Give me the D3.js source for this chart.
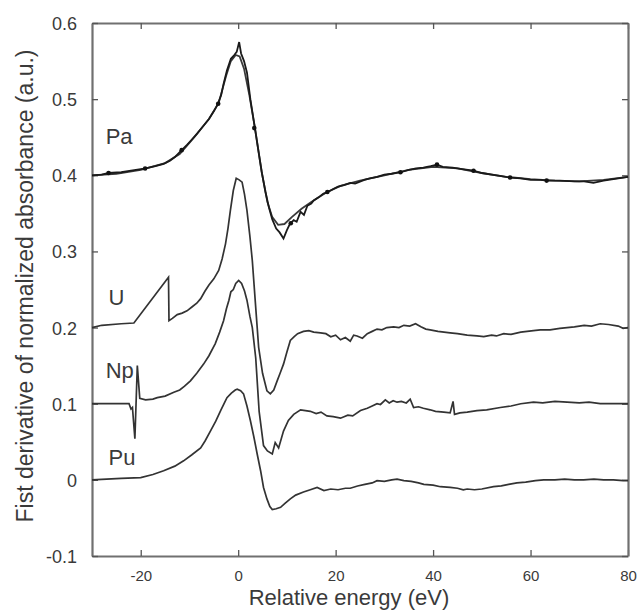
<!DOCTYPE html>
<html><head><meta charset="utf-8">
<script src="https://cdn.jsdelivr.net/npm/d3@7"></script>
<style>body{margin:0;background:#fff}svg{display:block}</style>
</head><body>
<script>
// Tick labels
const xTicks = [-20, 0, 20, 40, 60, 80];
const yTicks = [-0.1, 0, 0.1, 0.2, 0.3, 0.4, 0.5, 0.6];
const xTickLabels = ["-20", "0", "20", "40", "60", "80"];
const yTickLabels = ["-0.1", "0", "0.1", "0.2", "0.3", "0.4", "0.5", "0.6"];
const seriesNames = ["Pa", "U", "Np", "Pu"];

// Pa experimental (noisy) [E, value]
const paData = [[-30,0.400],[-28,0.401],[-26.6,0.403],[-24,0.404],[-22,0.406],[-20,0.408],[-19,0.409],[-17,0.412],[-15.3,0.415],[-14,0.419],[-13,0.424],[-11.6,0.433],[-10.5,0.440],[-9.5,0.447],[-8.4,0.455],[-7,0.466],[-6,0.474],[-5,0.484],[-4.3,0.492],[-3.5,0.505],[-3,0.52],[-2.3,0.538],[-1.5,0.553],[-0.8,0.558],[-0.3,0.562],[0.2,0.575],[0.6,0.56],[1.2,0.55],[1.8,0.535],[2.5,0.50],[3.5,0.459],[4.2,0.43],[4.9,0.402],[5.6,0.378],[6.3,0.358],[7,0.342],[7.8,0.33],[8.5,0.325],[9.3,0.317],[10,0.328],[10.6,0.336],[11.4,0.341],[12,0.339],[12.8,0.352],[13.5,0.348],[14.2,0.36],[15,0.363],[15.5,0.367],[16.5,0.371],[17.5,0.376],[18.4,0.378],[19.5,0.382],[20.5,0.385],[21.7,0.387],[23,0.39],[24,0.389],[25.9,0.394],[27,0.396],[28.5,0.398],[30,0.401],[31.5,0.402],[33.4,0.404],[35,0.407],[36.5,0.409],[38,0.410],[39.5,0.412],[40.8,0.414],[42,0.411],[44,0.410],[46,0.408],[48.3,0.406],[50,0.403],[52,0.401],[54,0.399],[55.8,0.397],[58,0.396],[60,0.394],[62,0.394],[63.4,0.393],[66,0.393],[69,0.392],[71,0.392],[72.9,0.390],[75,0.393],[77,0.395],[79,0.397],[80,0.398]];
// Pa fit (smooth)
const paFit = [[-30,0.400],[-25,0.402],[-20,0.407],[-15,0.416],[-12,0.428],[-9,0.450],[-6,0.474],[-4,0.495],[-2.5,0.53],[-1.5,0.55],[-0.5,0.558],[0.3,0.556],[1.2,0.54],[2.3,0.505],[3.5,0.46],[4.8,0.405],[6,0.365],[7,0.345],[8.2,0.335],[9.5,0.336],[11,0.345],[13,0.356],[15,0.365],[18,0.377],[21,0.386],[25,0.393],[30,0.400],[35,0.407],[40,0.411],[45,0.409],[50,0.403],[55,0.398],[60,0.395],[65,0.393],[70,0.392],[75,0.394],[80,0.398]];
// Pa markers
const paMarkers = [[-26.6,0.403],[-19.1,0.409],[-11.6,0.433],[-4.1,0.494],[3.3,0.462],[10.8,0.337],[18.3,0.378],[33.3,0.404],[40.8,0.414],[48.3,0.406],[55.8,0.397],[63.3,0.393]];

const uData = [[-30,0.20],[-28,0.203],[-24,0.205],[-21.4,0.206],[-14.3,0.266],[-14.2,0.209],[-13.5,0.212],[-12.5,0.217],[-11.5,0.219],[-10.5,0.222],[-9.5,0.227],[-8.5,0.232],[-7.7,0.238],[-6.8,0.248],[-6,0.256],[-5,0.264],[-4,0.275],[-3.3,0.29],[-2.6,0.31],[-2.1,0.33],[-1.6,0.354],[-1,0.38],[-0.4,0.396],[0.2,0.394],[0.8,0.391],[1.3,0.375],[1.8,0.354],[2.4,0.32],[2.9,0.288],[3.5,0.235],[4.2,0.174],[5,0.14],[5.9,0.117],[6.6,0.113],[7.3,0.118],[8,0.13],[8.6,0.14],[9.3,0.152],[10,0.168],[10.7,0.183],[11.5,0.188],[12.2,0.192],[13.4,0.195],[14.5,0.196],[15.5,0.194],[16.9,0.193],[18,0.192],[19,0.188],[20,0.19],[21,0.184],[22,0.187],[23,0.182],[23.7,0.19],[24.4,0.189],[25.5,0.186],[26.5,0.192],[27.5,0.195],[28.5,0.198],[29.5,0.197],[30.5,0.200],[31.9,0.201],[33,0.200],[34,0.203],[35.2,0.202],[36.4,0.205],[37.5,0.201],[38.5,0.198],[39.4,0.197],[41,0.195],[43.5,0.193],[45,0.192],[47,0.19],[49,0.189],[50.4,0.188],[52,0.190],[53,0.189],[54.5,0.192],[56,0.191],[58,0.194],[60.6,0.196],[62,0.197],[64,0.197],[66,0.199],[67.5,0.2],[69,0.201],[71,0.203],[72.5,0.202],[74.3,0.205],[76,0.204],[78,0.202],[79,0.199],[80,0.2]];

const npData = [[-30,0.1],[-24,0.1],[-22.4,0.1],[-22,0.093],[-21.7,0.095],[-21.2,0.054],[-20.7,0.15],[-20.2,0.107],[-19,0.105],[-17.5,0.106],[-16.6,0.108],[-15,0.11],[-13.2,0.115],[-12,0.118],[-11,0.123],[-9.8,0.13],[-8.5,0.14],[-7.1,0.152],[-6,0.163],[-4.7,0.179],[-3.8,0.194],[-3,0.209],[-2.4,0.225],[-1.9,0.236],[-1.5,0.247],[-1.0,0.250],[-0.5,0.258],[0.1,0.262],[0.7,0.258],[1.3,0.248],[1.8,0.236],[2.4,0.215],[2.9,0.2],[3.6,0.16],[4.3,0.09],[5.2,0.045],[6,0.038],[7,0.034],[7.6,0.049],[8.3,0.042],[9.3,0.064],[10.3,0.078],[11.4,0.086],[12.8,0.092],[13.8,0.091],[14.8,0.09],[16,0.087],[17,0.089],[18.2,0.084],[19.5,0.083],[21,0.081],[22.5,0.085],[23.5,0.084],[25.1,0.091],[26.5,0.094],[27.5,0.097],[28.5,0.1],[29.2,0.099],[30.2,0.105],[31,0.101],[31.8,0.104],[32.6,0.102],[33.5,0.103],[34.5,0.101],[35.3,0.106],[36,0.095],[37,0.096],[38,0.094],[39.4,0.092],[40.5,0.09],[42.2,0.089],[43.5,0.088],[44.1,0.103],[44.4,0.086],[45.5,0.088],[47,0.089],[49,0.091],[51,0.092],[53.8,0.095],[56,0.097],[58,0.1],[60.6,0.102],[62.5,0.101],[65,0.103],[67.5,0.102],[70,0.101],[72,0.102],[74.3,0.1],[77,0.1],[80,0.1]];

const puData = [[-30,0.0],[-27,0.001],[-24,0.002],[-20,0.003],[-17.5,0.007],[-15.3,0.012],[-13,0.018],[-11.2,0.025],[-9.5,0.033],[-7.7,0.042],[-6.8,0.051],[-5.7,0.064],[-4.6,0.077],[-3.6,0.091],[-2.9,0.1],[-2.3,0.108],[-1.4,0.114],[-0.6,0.118],[-0.2,0.119],[0.5,0.117],[1.1,0.113],[1.8,0.097],[2.5,0.078],[3.2,0.057],[3.9,0.034],[4.6,0.012],[5.2,-0.01],[5.9,-0.025],[6.5,-0.035],[7,-0.039],[7.8,-0.038],[8.7,-0.036],[9.6,-0.031],[10.7,-0.025],[11.8,-0.02],[13.4,-0.016],[14.8,-0.013],[16.2,-0.01],[17.6,-0.014],[19,-0.012],[20.5,-0.013],[22,-0.011],[23,-0.011],[24.5,-0.008],[26,-0.006],[27.5,-0.004],[28.5,-0.001],[30,-0.002],[31.5,0.0],[32.6,0.001],[34,-0.001],[35.5,-0.002],[37,-0.004],[38.1,-0.006],[40,-0.007],[41.5,-0.009],[43.5,-0.01],[45,-0.011],[46.2,-0.013],[47,-0.012],[48.5,-0.013],[50,-0.012],[52.4,-0.009],[54,-0.008],[55.5,-0.006],[57.2,-0.004],[59,-0.003],[61,-0.001],[62.7,0.0],[65,0.0],[67,0.001],[69,0.0],[70.9,0.0],[73,0.001],[75,0.0],[77,0.0],[79,-0.001],[80,-0.001]];

// label anchor positions in data coords (left edge, baseline)
const labelPos = [[-27.2, 0.441], [-26.6, 0.230], [-27.2, 0.134], [-26.6, 0.020]];

const W = 639, H = 611;
const m = {left: 92, right: 11, top: 23, bottom: 55};
const svg = d3.select("body").append("svg").attr("width", W).attr("height", H)
  .style("font-family", "'Liberation Sans', Arial, Helvetica, sans-serif");

const x = d3.scaleLinear().domain([-30, 80]).range([m.left, W - m.right]);
const y = d3.scaleLinear().domain([-0.1, 0.6]).range([H - m.bottom, m.top]);

const axisColor = "#707070";
const gB = svg.append("g").attr("transform", `translate(0,${y(-0.1)})`)
  .call(d3.axisBottom(x).tickValues(xTicks).tickSizeInner(-6).tickSizeOuter(0).tickPadding(14)
    .tickFormat((d, i) => xTickLabels[i]));
const gT = svg.append("g").attr("transform", `translate(0,${y(0.6)})`)
  .call(d3.axisTop(x).tickValues(xTicks).tickSizeInner(-6).tickSizeOuter(0).tickFormat(""));
const gL = svg.append("g").attr("transform", `translate(${x(-30)},0)`)
  .call(d3.axisLeft(y).tickValues(yTicks).tickSizeInner(-6).tickSizeOuter(0).tickPadding(15)
    .tickFormat((d, i) => yTickLabels[i]));
const gR = svg.append("g").attr("transform", `translate(${x(80)},0)`)
  .call(d3.axisRight(y).tickValues(yTicks).tickSizeInner(-6).tickSizeOuter(0).tickFormat(""));

[gB, gT, gL, gR].forEach(g => {
  g.select(".domain").attr("stroke", axisColor).attr("stroke-width", 2.2);
  g.selectAll(".tick line").attr("stroke", "#555").attr("stroke-width", 1.3);
  g.selectAll("text").attr("fill", "#3a3a3a").style("font-family", "'Liberation Sans', Arial, sans-serif");
});
gB.selectAll("text").attr("font-size", 15);
gL.selectAll("text").attr("font-size", 18).attr("dy", "0.36em");

const line = d3.line().x(d => x(d[0])).y(d => y(d[1]));
const plot = svg.append("g");
plot.append("path").datum(paFit).attr("d", line).attr("fill", "none").attr("stroke", "#3a3a3a").attr("stroke-width", 1.8);
plot.append("path").datum(paData).attr("d", line).attr("fill", "none").attr("stroke", "#1a1a1a").attr("stroke-width", 1.8);
plot.selectAll("circle.pa").data(paMarkers).enter().append("circle")
  .attr("cx", d => x(d[0])).attr("cy", d => y(d[1])).attr("r", 2.3).attr("fill", "#111");
[uData, npData, puData].forEach(s => {
  plot.append("path").datum(s).attr("d", line).attr("fill", "none").attr("stroke", "#333").attr("stroke-width", 1.7);
});

svg.append("g").selectAll("text").data(seriesNames).enter().append("text")
  .attr("x", (d, i) => x(labelPos[i][0]))
  .attr("y", (d, i) => y(labelPos[i][1]))
  .attr("font-size", 22).attr("fill", "#3a3a3a").text(d => d);

svg.append("text").attr("x", 349).attr("y", 604.5).attr("text-anchor", "middle")
  .attr("font-size", 22).attr("fill", "#3a3a3a").text("Relative energy (eV)");
svg.append("text").attr("transform", "translate(33,286) rotate(-90)").attr("text-anchor", "middle")
  .attr("font-size", 23).attr("fill", "#3a3a3a").text("Fist derivative of normalized absorbance (a.u.)");
</script>
</body></html>
